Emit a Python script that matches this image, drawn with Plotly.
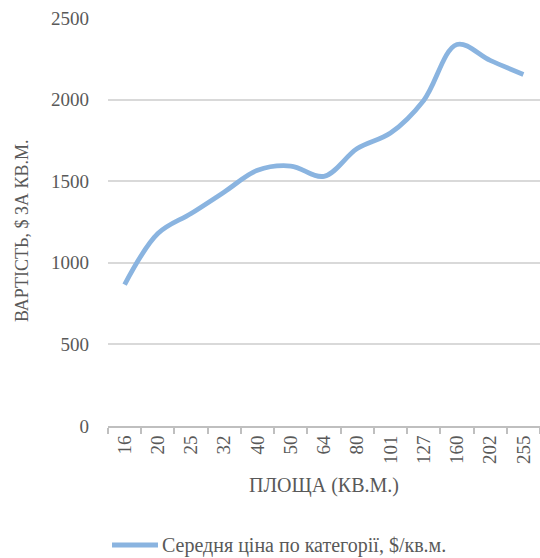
import plotly.graph_objects as go

categories = ["16", "20", "25", "32", "40", "50", "64", "80", "101", "127", "160", "202", "255"]
prices = [867, 1179, 1302, 1434, 1567, 1593, 1530, 1700, 1795, 1995, 2338, 2240, 2154]
series_name = "Середня ціна по категорії, $/кв.м."
x_title = "ПЛОЩА (КВ.М.)"
y_title = "ВАРТІСТЬ, $ ЗА КВ.М."

FONT = "Liberation Serif"
GREY = "#595959"
LINE = "#8AB4E0"

fig = go.Figure()
fig.add_trace(go.Scatter(
    x=categories, y=prices, mode="lines",
    line=dict(color=LINE, width=4.8, shape="spline", smoothing=1.0),
    name=series_name, showlegend=False,
))

# legend (sample line + text)
fig.add_shape(type="line", xref="paper", yref="paper",
              x0=0.0093, x1=0.1157, y0=-0.2917, y1=-0.2917,
              line=dict(color=LINE, width=4.8))
fig.add_annotation(text=series_name, xref="paper", yref="paper",
                   x=0.1204, y=-0.2917, xanchor="left", yanchor="middle",
                   showarrow=False, font=dict(family=FONT, size=20, color=GREY))
# y axis title
fig.add_annotation(text=y_title, xref="paper", yref="paper",
                   x=(22 - 108) / 432, y=(426 - 231) / 408, xanchor="center", yanchor="middle",
                   textangle=-90, showarrow=False, font=dict(family=FONT, size=18, color=GREY))

fig.update_layout(
    width=540, height=558,
    margin=dict(l=108, r=0, t=18, b=132, autoexpand=False),
    paper_bgcolor="white", plot_bgcolor="white",
    font=dict(family=FONT, size=19, color=GREY),
    showlegend=False,
    xaxis=dict(
        type="category", range=[-0.5, 12.5],
        showgrid=False, showline=True, linecolor="#BFBFBF", linewidth=2,
        ticks="outside", tickson="boundaries", ticklen=6, tickcolor="#BFBFBF", tickwidth=2,
        tickangle=-90, tickfont=dict(family=FONT, size=19, color=GREY),
        title=dict(text=x_title, font=dict(family=FONT, size=20, color=GREY), standoff=15),
    ),
    yaxis=dict(
        range=[0, 2500], dtick=500, showgrid=True, gridcolor="#D9D9D9", gridwidth=1.5,
        zeroline=False, showline=False, ticks="", ticklabelstandoff=18,
        tickfont=dict(family=FONT, size=19, color=GREY),
    ),
)

fig.write_html("out.html", config={"displayModeBar": False},
               post_script="document.body.style.margin='0';")
